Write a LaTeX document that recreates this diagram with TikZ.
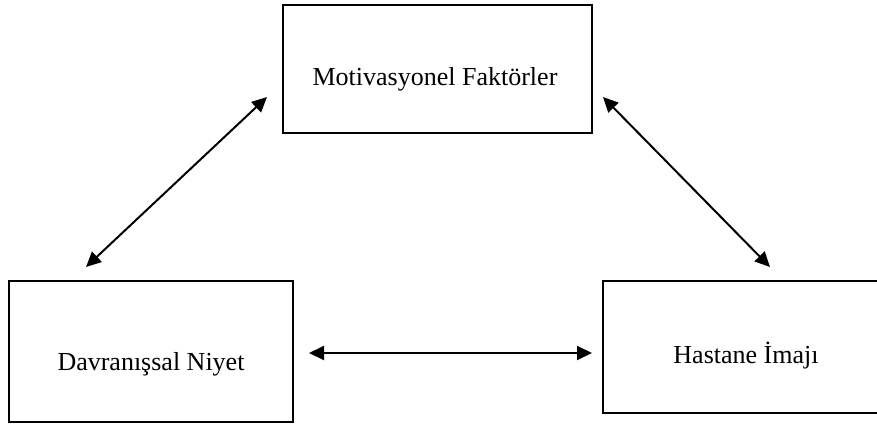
\documentclass[tikz,border=0pt]{standalone}
\usepackage{fontspec}
\setmainfont{Liberation Serif}
\usetikzlibrary{arrows.meta}
\begin{document}
\begin{tikzpicture}[x=1pt,y=-1pt,
  box/.style={draw,line width=2pt,inner sep=0pt},
  lbl/.style={inner sep=0pt,font=\fontsize{26}{30}\selectfont},
  link/.style={line width=2pt,{Triangle[length=15pt,width=14pt]}-{Triangle[length=15pt,width=14pt]}}]
\useasboundingbox (0,0) rectangle (877,428);
\clip (0,0) rectangle (877,428);
\fill[white] (0,0) rectangle (877,428);
% boxes
\node[box,minimum width=309pt,minimum height=128pt] (top) at (437.5,69) {};
\node[box,minimum width=284pt,minimum height=141pt] (left) at (151,351.5) {};
\node[box,minimum width=286pt,minimum height=132pt] (right) at (746,347) {};
% texts
\node[lbl,anchor=base] (toptext) at (435,85) {Motivasyonel Faktörler};
\node[lbl,anchor=base] (lefttext) at (151,370) {Davranışsal Niyet};
\node[lbl,anchor=base] (righttext) at (746,363) {Hastane İmajı};
% connector ends
\coordinate (a1) at (86,267);
\coordinate (a2) at (267,97);
\coordinate (b1) at (603,97);
\coordinate (b2) at (770,267);
\coordinate (c1) at (309,353);
\coordinate (c2) at (592,353);
\draw[link] (a1) -- (a2);
\draw[link] (b1) -- (b2);
\draw[link] (c1) -- (c2);
\end{tikzpicture}
\end{document}
